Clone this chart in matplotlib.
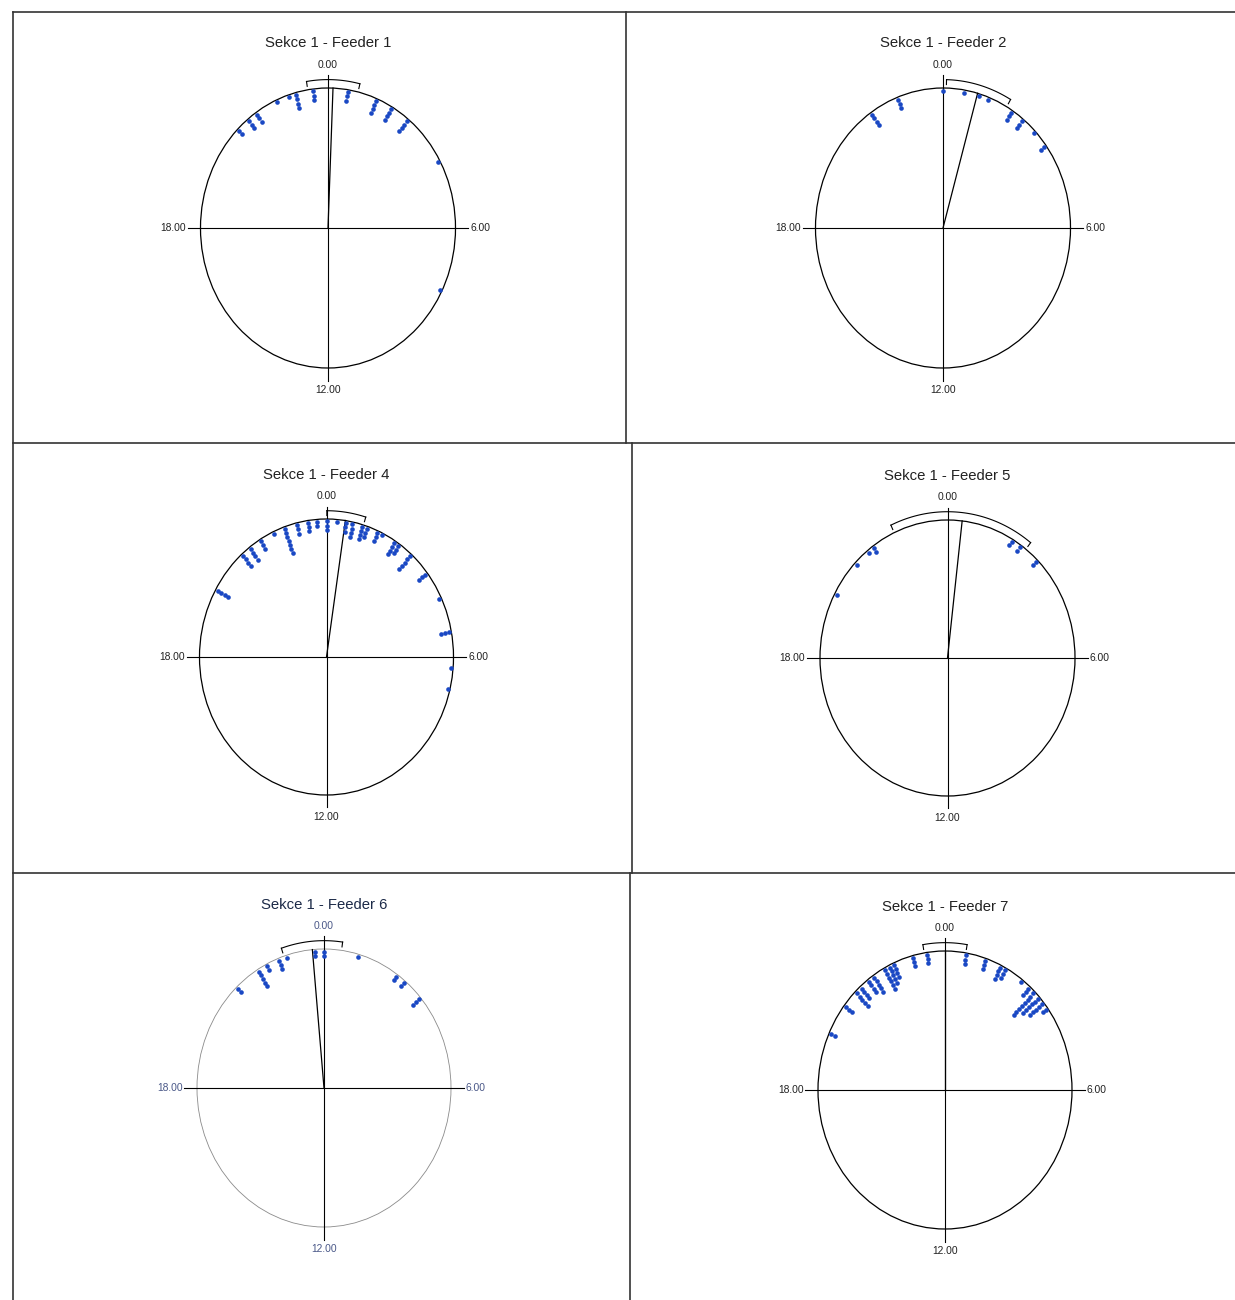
import numpy as np
import matplotlib.pyplot as plt
from matplotlib.patches import Ellipse
from matplotlib.lines import Line2D

plt.rcParams['font.family'] = ['Liberation Sans', 'DejaVu Sans']

# observation times (hours) and how many fall in each bin
titles = ["Sekce 1 - Feeder 1", "Sekce 1 - Feeder 2", "Sekce 1 - Feeder 4",
          "Sekce 1 - Feeder 5", "Sekce 1 - Feeder 6", "Sekce 1 - Feeder 7"]

f1_hours = [23.55, 23.0, 22.8, 22.4, 21.7, 21.4, 21.0, 0.6, 1.5, 2.0, 2.6, 4.1, 7.8]
f1_counts = [3, 4, 1, 1, 3, 3, 2, 3, 4, 4, 4, 1, 1]

f2_hours = [0.0, 0.65, 1.1, 1.4, 2.2, 2.6, 3.1, 3.6, 22.6, 21.7]
f2_counts = [1, 1, 1, 1, 3, 3, 1, 2, 3, 4]

f4_hours = [0.0, 0.33, 0.6, 0.8, 1.1, 1.25, 1.6, 1.75, 2.2, 2.35, 2.8, 3.5, 4.3,
            5.3, 6.3, 6.9, 23.7, 23.43, 23.1, 22.7, 22.35, 21.9, 21.5, 21.2, 19.95]
f4_counts = [3, 1, 3, 4, 4, 3, 3, 1, 4, 3, 5, 3, 1, 3, 1, 1, 2, 3, 3, 7, 1, 3, 4, 4, 4]

f5_hours = [2.05, 2.35, 3.0, 21.6, 21.4, 20.9, 19.85]
f5_counts = [2, 2, 2, 2, 1, 1, 1]

f6_hours = [0.0, 23.73, 1.05, 22.85, 22.6, 22.2, 21.9, 21.1, 2.35, 2.65, 3.3]
f6_counts = [2, 2, 1, 1, 3, 2, 5, 2, 2, 2, 3]

f7_hours = [23.45, 23.0, 22.4, 22.25, 22.1, 21.7, 21.5, 21.2, 21.0, 20.5, 19.6,
            0.65, 1.25, 1.75, 1.9, 2.5, 2.8, 3.0, 3.2, 3.4, 3.6]
f7_counts = [3, 3, 4, 5, 6, 5, 4, 4, 5, 3, 2, 3, 3, 4, 3, 1, 3, 8, 6, 5, 2]

# mean direction and 95% confidence half-width (hours)
mean_hours = [0.15, 1.05, 0.57, 0.44, 23.65, 0.0]
ci_hours = [0.76, 0.95, 0.56, 2.09, 0.88, 0.63]

hours_all = [f1_hours, f2_hours, f4_hours, f5_hours, f6_hours, f7_hours]
counts_all = [f1_counts, f2_counts, f4_counts, f5_counts, f6_counts, f7_counts]

W, H = 1235, 1300
fig = plt.figure(figsize=(W / 100, H / 100), dpi=100)

# circle centre and radii in pixels for each panel
geom = [(328, 228, 127.5, 140), (943, 228, 127.5, 140),
        (326.5, 657, 127, 138), (947.5, 658, 127.5, 138),
        (324, 1088, 127, 139), (945, 1090, 127, 139)]
L = 1.45
DOT = '#1a48c4'


def xy(hour, r):
    t = np.asarray(hour, dtype=float) / 24 * 2 * np.pi
    return r * np.sin(t), r * np.cos(t)


def draw_feeder(ax, title, hours, counts, mean, ci, faded=False):
    ax.set_xlim(-L, L)
    ax.set_ylim(-L, L)
    ax.axis('off')
    ring = '#8a8a8a' if faded else 'black'
    lab = '#4a5888' if faded else '#222222'
    ax.add_patch(Ellipse((0, 0), 2, 2, fill=False, ec=ring, lw=0.6 if faded else 0.9))
    ax.plot([-1.1, 1.1], [0, 0], color='black', lw=0.8)
    ax.plot([0, 0], [-1.09, 1.09], color='black', lw=0.8)

    for h, n in zip(hours, counts):
        r = 0.982 - 0.031 * np.arange(n)
        x, y = xy(h, r)
        ax.scatter(x, y, s=11, color=DOT, lw=0, zorder=3)

    # mean vector
    mx, my = xy(mean, 1.0)
    ax.plot([0, mx], [0, my], color='black', lw=0.9)
    # confidence arc with end ticks
    t = np.linspace(mean - ci, mean + ci, 120)
    ax.plot(*xy(t, 1.06), color='black', lw=0.8)
    for e in (mean - ci, mean + ci):
        ax.plot(*xy([e, e], np.array([1.06, 1.025])), color='black', lw=0.8)

    ax.text(0, 1.32, title, ha='center', va='center', fontsize=10.7,
            color='#1c2a48' if faded else '#222222')
    ax.text(0, 1.165, '0.00', ha='center', va='center', fontsize=7.4, color=lab)
    ax.text(1.115, 0, '6.00', ha='left', va='center', fontsize=7.4, color=lab)
    ax.text(-1.115, 0, '18.00', ha='right', va='center', fontsize=7.4, color=lab)
    ax.text(0, -1.16, '12.00', ha='center', va='center', fontsize=7.4, color=lab)


for i, (cx, cy, rx, ry) in enumerate(geom):
    ax = fig.add_axes([(cx - L * rx) / W, 1 - (cy + L * ry) / H,
                       2 * L * rx / W, 2 * L * ry / H])
    draw_feeder(ax, titles[i], hours_all[i], counts_all[i],
                mean_hours[i], ci_hours[i], faded=(i == 4))


# page frame around the panels
def rule(x0, y0, x1, y1):
    fig.add_artist(Line2D([x0 / W, x1 / W], [1 - y0 / H, 1 - y1 / H],
                          transform=fig.transFigure, color='#333333', lw=1.2))


rule(13, 12, 1235, 12)
rule(13, 12, 13, 1300)
rule(626, 12, 626, 443)
rule(13, 443, 1235, 443)
rule(632, 443, 632, 873)
rule(13, 873, 1235, 873)
rule(630, 873, 630, 1300)

fig.savefig('out.png', dpi=100, facecolor='white')
